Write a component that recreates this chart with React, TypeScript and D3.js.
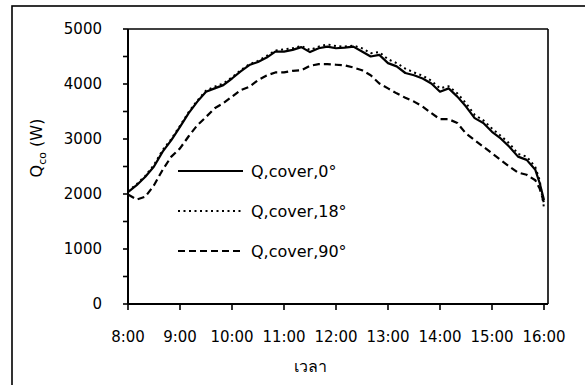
import React from "react";
import * as d3 from "d3";

const times = [
  "8:00","8:10","8:20","8:30","8:40","8:50","9:00","9:10","9:20","9:30","9:40","9:50",
  "10:00","10:10","10:20","10:30","10:40","10:50","11:00","11:10","11:20","11:30","11:40","11:50",
  "12:00","12:10","12:20","12:30","12:40","12:50","13:00","13:10","13:20","13:30","13:40","13:50",
  "14:00","14:10","14:20","14:30","14:40","14:50","15:00","15:10","15:20","15:30","15:40","15:50",
  "15:55","16:00",
];

const cover0 = [
  2036, 2160, 2315, 2500, 2770, 2980, 3220, 3470, 3680, 3860, 3920, 3980,
  4100, 4230, 4345, 4400, 4480, 4590, 4590, 4620, 4670, 4580, 4650, 4680,
  4650, 4660, 4680, 4590, 4500, 4530, 4380, 4320, 4200, 4160, 4100, 4010,
  3860, 3920, 3770, 3590, 3380, 3290, 3130, 3010, 2860, 2680, 2620, 2440,
  2200, 1890,
];

const cover18 = [
  2050, 2180, 2330, 2530, 2800, 3000, 3240, 3490, 3700, 3880, 3950, 4010,
  4120, 4250, 4360, 4420, 4510, 4610, 4630, 4650, 4690, 4620, 4680, 4720,
  4690, 4680, 4700, 4650, 4560, 4580, 4450, 4380, 4280, 4210, 4150, 4060,
  3920, 3960, 3830, 3650, 3440, 3340, 3190, 3060, 2920, 2730, 2680, 2490,
  2250, 1750,
];

const cover90 = [
  1990, 1900, 1950, 2160, 2440, 2680, 2830, 3050, 3250, 3400, 3560, 3650,
  3770, 3890, 3950, 4070, 4155, 4210, 4210, 4240, 4250, 4330, 4360, 4360,
  4350, 4340, 4300, 4250, 4160, 4010, 3920, 3830, 3750, 3680, 3590, 3470,
  3360, 3360, 3290, 3100, 2980, 2860, 2740, 2620, 2500, 2390, 2350, 2250,
  2100, 1840,
];

const seriesNames = ["Q,cover,0°", "Q,cover,18°", "Q,cover,90°"];
const xTickLabels = ["8:00","9:00","10:00","11:00","12:00","13:00","14:00","15:00","16:00"];
const yTickValues = [0, 1000, 2000, 3000, 4000, 5000];
const yMinorValues = [500, 1500, 2500, 3500, 4500];

const toHours = (s: string) => {
  const [h, m] = s.split(":").map(Number);
  return h + m / 60;
};

const W = 585;
const H = 385;
const plot = { left: 128, right: 548, top: 29, bottom: 304 };
const FONT = "'DejaVu Sans', 'Noto Sans', sans-serif";

export default function App() {
  const x = d3.scaleLinear().domain([8, 16 + 4 / 52]).range([plot.left, plot.right]);
  const y = d3.scaleLinear().domain([0, 5000]).range([plot.bottom, plot.top]);
  const hrs = times.map(toHours);

  const line = d3
    .line<number>()
    .x((_, i) => x(hrs[i]))
    .y((d) => y(d));

  const series = [
    { name: seriesNames[0], values: cover0, dash: undefined as string | undefined, width: 2.2 },
    { name: seriesNames[1], values: cover18, dash: "2,3.5", width: 2 },
    { name: seriesNames[2], values: cover90, dash: "7,4", width: 2.2 },
  ];

  const legendRows = [171, 211, 251];

  return (
    <svg
      width={W}
      height={H}
      style={{ position: "absolute", left: 0, top: 0, background: "#fff" }}
      fontFamily={FONT}
    >
      <rect x={0} y={0} width={W} height={H} fill="#fff" />
      <rect x={12} y={6} width={600} height={420} fill="none" stroke="#000" strokeWidth={1.6} />

      {/* plot area border (top & right) */}
      <line x1={plot.left} x2={plot.right} y1={plot.top} y2={plot.top} stroke="#000" strokeWidth={1.3} />
      <line x1={plot.right} x2={plot.right} y1={plot.top} y2={plot.bottom} stroke="#000" strokeWidth={1.6} />

      {/* series */}
      {series.map((s) => (
        <path
          key={s.name}
          d={line(s.values) || ""}
          fill="none"
          stroke="#000"
          strokeWidth={s.width}
          strokeDasharray={s.dash}
          strokeLinejoin="round"
        />
      ))}

      {/* y axis */}
      <line x1={plot.left} x2={plot.left} y1={plot.top} y2={plot.bottom} stroke="#000" strokeWidth={2} />
      {yTickValues.concat(yMinorValues).map((v) => (
        <line key={"yt" + v} x1={plot.left - 5} x2={plot.left} y1={y(v)} y2={y(v)} stroke="#000" strokeWidth={1.6} />
      ))}
      {yTickValues.map((v) => (
        <text key={"yl" + v} x={102} y={y(v)} dy="0.36em" textAnchor="end" fontSize={15} fill="#000">
          {v}
        </text>
      ))}

      {/* x axis */}
      <line x1={plot.left} x2={plot.right} y1={plot.bottom} y2={plot.bottom} stroke="#000" strokeWidth={2} />
      {xTickLabels.map((t) => {
        const xv = x(toHours(t));
        return (
          <g key={"xt" + t}>
            <line x1={xv} x2={xv} y1={plot.bottom} y2={plot.bottom + 6} stroke="#000" strokeWidth={1.6} />
            <text x={xv} y={337} dy="0.36em" textAnchor="middle" fontSize={15} fill="#000">
              {t}
            </text>
          </g>
        );
      })}

      {/* axis titles */}
      <text x={310} y={366} dy="0.36em" textAnchor="middle" fontSize={16} fill="#000">
        เวลา
      </text>
      <text
        transform="translate(36,148) rotate(-90)"
        textAnchor="middle"
        dy="0.36em"
        fontSize={16}
        fill="#000"
      >
        Q
        <tspan fontSize={11} dy="4">co</tspan>
        <tspan dy="-4"> (W)</tspan>
      </text>

      {/* legend */}
      {series.map((s, i) => (
        <g key={"lg" + s.name}>
          <line
            x1={178}
            x2={243}
            y1={legendRows[i]}
            y2={legendRows[i]}
            stroke="#000"
            strokeWidth={s.width}
            strokeDasharray={s.dash}
          />
          <text x={251} y={legendRows[i]} dy="0.36em" fontSize={16} fill="#000">
            {s.name}
          </text>
        </g>
      ))}
    </svg>
  );
}
